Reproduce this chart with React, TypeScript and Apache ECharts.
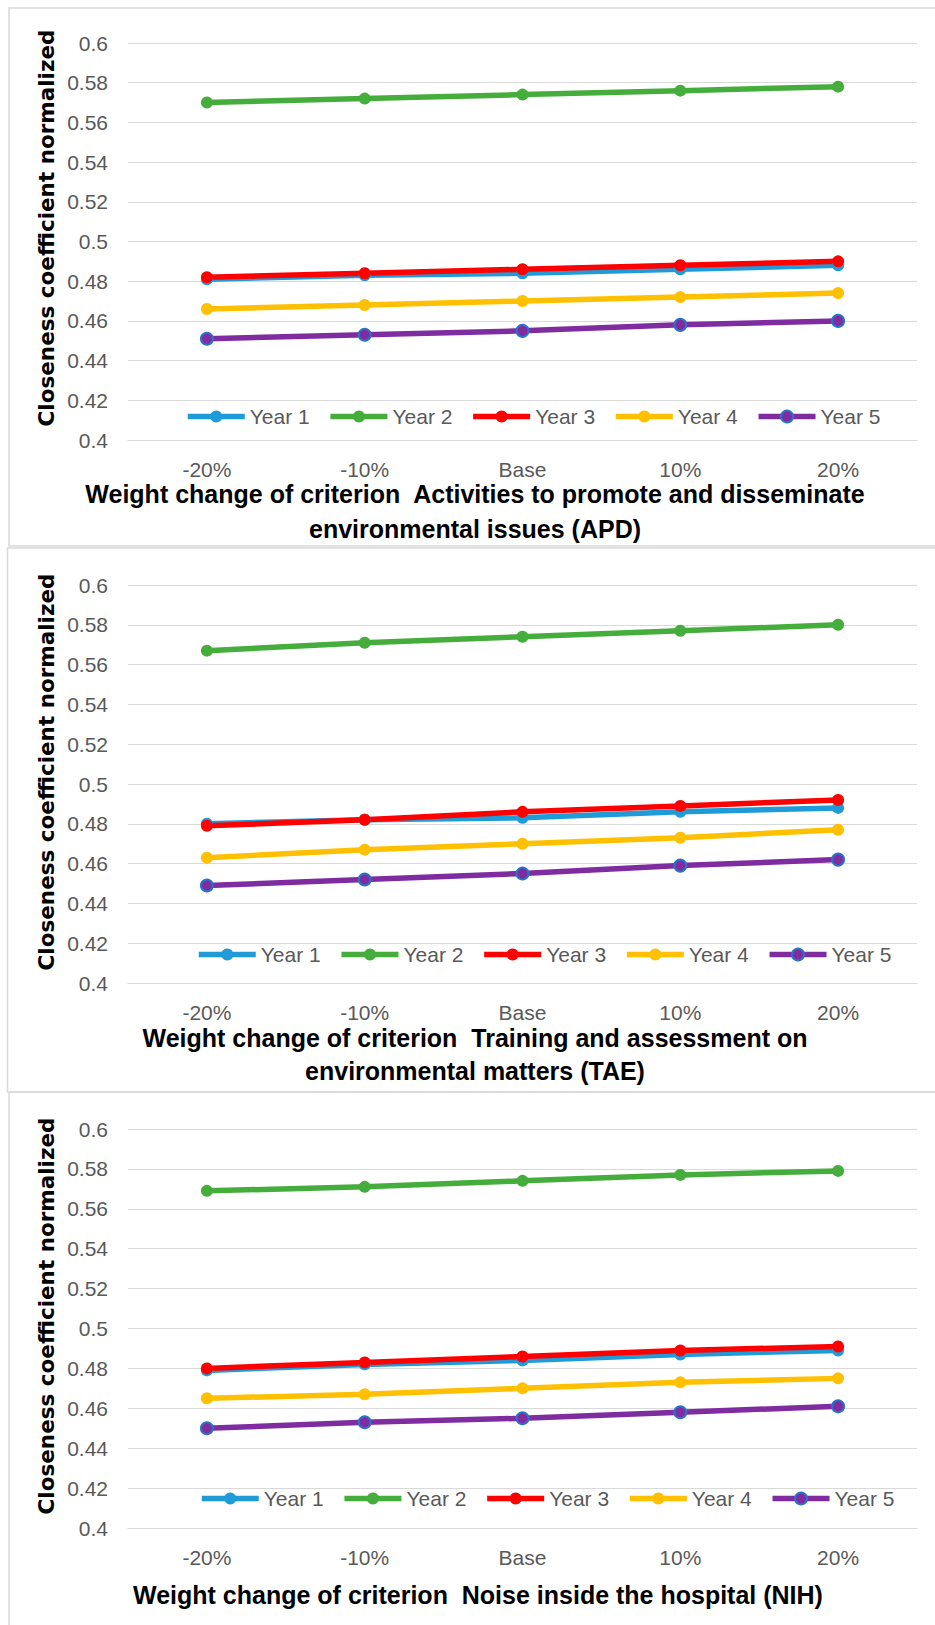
import React, { useEffect, useRef } from "react";
import * as echarts from "echarts";

const categories = ["-20%", "-10%", "Base", "10%", "20%"];
const yearNames = ["Year 1", "Year 2", "Year 3", "Year 4", "Year 5"];
const yTicks = { min: 0.4, max: 0.6, interval: 0.02 };

// Panel 1: APD
const apdYear1 = [0.481, 0.483, 0.484, 0.486, 0.488];
const apdYear2 = [0.57, 0.572, 0.574, 0.576, 0.578];
const apdYear3 = [0.482, 0.484, 0.486, 0.488, 0.49];
const apdYear4 = [0.466, 0.468, 0.47, 0.472, 0.474];
const apdYear5 = [0.451, 0.453, 0.455, 0.458, 0.46];

// Panel 2: TAE
const taeYear1 = [0.48, 0.482, 0.483, 0.486, 0.488];
const taeYear2 = [0.567, 0.571, 0.574, 0.577, 0.58];
const taeYear3 = [0.479, 0.482, 0.486, 0.489, 0.492];
const taeYear4 = [0.463, 0.467, 0.47, 0.473, 0.477];
const taeYear5 = [0.449, 0.452, 0.455, 0.459, 0.462];

// Panel 3: NIH
const nihYear1 = [0.479, 0.482, 0.484, 0.487, 0.489];
const nihYear2 = [0.569, 0.571, 0.574, 0.577, 0.579];
const nihYear3 = [0.48, 0.483, 0.486, 0.489, 0.491];
const nihYear4 = [0.465, 0.467, 0.47, 0.473, 0.475];
const nihYear5 = [0.45, 0.453, 0.455, 0.458, 0.461];

const yAxisTitle = "Closeness coefficient normalized";
const xTitleLines = [
  ["Weight change of criterion  Activities to promote and disseminate", "environmental issues (APD)"],
  ["Weight change of criterion  Training and assessment on", "environmental matters (TAE)"],
  ["Weight change of criterion  Noise inside the hospital (NIH)"],
];

const panelData = [
  [apdYear1, apdYear2, apdYear3, apdYear4, apdYear5],
  [taeYear1, taeYear2, taeYear3, taeYear4, taeYear5],
  [nihYear1, nihYear2, nihYear3, nihYear4, nihYear5],
];

const colors = ["#1F9BD8", "#44AD3B", "#FF0000", "#FFC000", "#7E2CA0"];
const borderColors = ["#1F9BD8", "#44AD3B", "#FF0000", "#FFC000", "#2874C8"];

const FONT = "'Liberation Sans', Arial, sans-serif";

const layout = [
  { top: 43, height: 397, legendLeft: 180, legendY: 416, yTitleY: 228, titleX: 475, titleYs: [494, 529], box: [9, 8, 940, 538] },
  { top: 585, height: 398, legendLeft: 191, legendY: 954, yTitleY: 772, titleX: 475, titleYs: [1038, 1071], box: [7.5, 548, 940, 544] },
  { top: 1129, height: 399, legendLeft: 194, legendY: 1498, yTitleY: 1316, titleX: 478, titleYs: [1595], box: [9, 1092, 940, 600] },
];

export default function App() {
  const ref = useRef<HTMLDivElement>(null);
  useEffect(() => {
    document.body.style.margin = "0";
    const chart = echarts.init(ref.current!, null, { renderer: "svg" });
    const grids: any[] = [];
    const xAxes: any[] = [];
    const yAxes: any[] = [];
    const legends: any[] = [];
    const series: any[] = [];
    const graphics: any[] = [];
    layout.forEach((p, i) => {
      grids.push({ left: 128, width: 789, top: p.top, height: p.height });
      xAxes.push({
        type: "category",
        gridIndex: i,
        data: categories,
        boundaryGap: true,
        axisLine: { lineStyle: { color: "#d9d9d9", width: 1 } },
        axisTick: { show: false },
        axisLabel: { color: "#595959", fontSize: 21, fontFamily: FONT, margin: 19 },
      });
      yAxes.push({
        type: "value",
        gridIndex: i,
        min: yTicks.min,
        max: yTicks.max,
        interval: yTicks.interval,
        axisLine: { show: false },
        axisTick: { show: false },
        splitLine: { lineStyle: { color: "#d9d9d9", width: 1 } },
        axisLabel: { color: "#595959", fontSize: 21, fontFamily: FONT, margin: 20 },
      });
      legends.push({
        left: p.legendLeft,
        top: p.legendY - 15,
        width: 900,
        itemWidth: 57,
        itemHeight: 15,
        itemGap: 18,
        data: yearNames,
        lineStyle: { width: 5.5 },
        textStyle: { color: "#595959", fontSize: 21, fontFamily: FONT },
      });
      panelData[i].forEach((vals, k) => {
        series.push({
          type: "line",
          name: yearNames[k],
          xAxisIndex: i,
          yAxisIndex: i,
          data: vals,
          symbol: "circle",
          symbolSize: 12,
          lineStyle: { color: colors[k], width: 5.5 },
          itemStyle: { color: colors[k], borderColor: borderColors[k], borderWidth: k === 4 ? 2 : 0 },
        });
      });
      graphics.push({
        type: "rect",
        shape: { x: p.box[0], y: p.box[1], width: p.box[2], height: p.box[3] },
        style: { fill: "none", stroke: "#d9d9d9", lineWidth: 1.5 },
        silent: true,
      });
      graphics.push({
        type: "text",
        x: 46,
        y: p.yTitleY,
        rotation: Math.PI / 2,
        style: {
          text: yAxisTitle,
          font: "bold 21.5px 'DejaVu Sans', sans-serif",
          fill: "#000",
          textAlign: "center",
          textVerticalAlign: "middle",
        },
      });
      xTitleLines[i].forEach((line, li) => {
        graphics.push({
          type: "text",
          x: p.titleX,
          y: p.titleYs[li],
          style: {
            text: line,
            font: `bold 25px ${FONT}`,
            fill: "#000",
            textAlign: "center",
            textVerticalAlign: "middle",
          },
        });
      });
    });
    chart.setOption({
      animation: false,
      backgroundColor: "#fff",
      grid: grids,
      xAxis: xAxes,
      yAxis: yAxes,
      legend: legends,
      series,
      graphic: graphics,
    });
    return () => chart.dispose();
  }, []);
  return <div ref={ref} style={{ width: 935, height: 1625 }} />;
}
